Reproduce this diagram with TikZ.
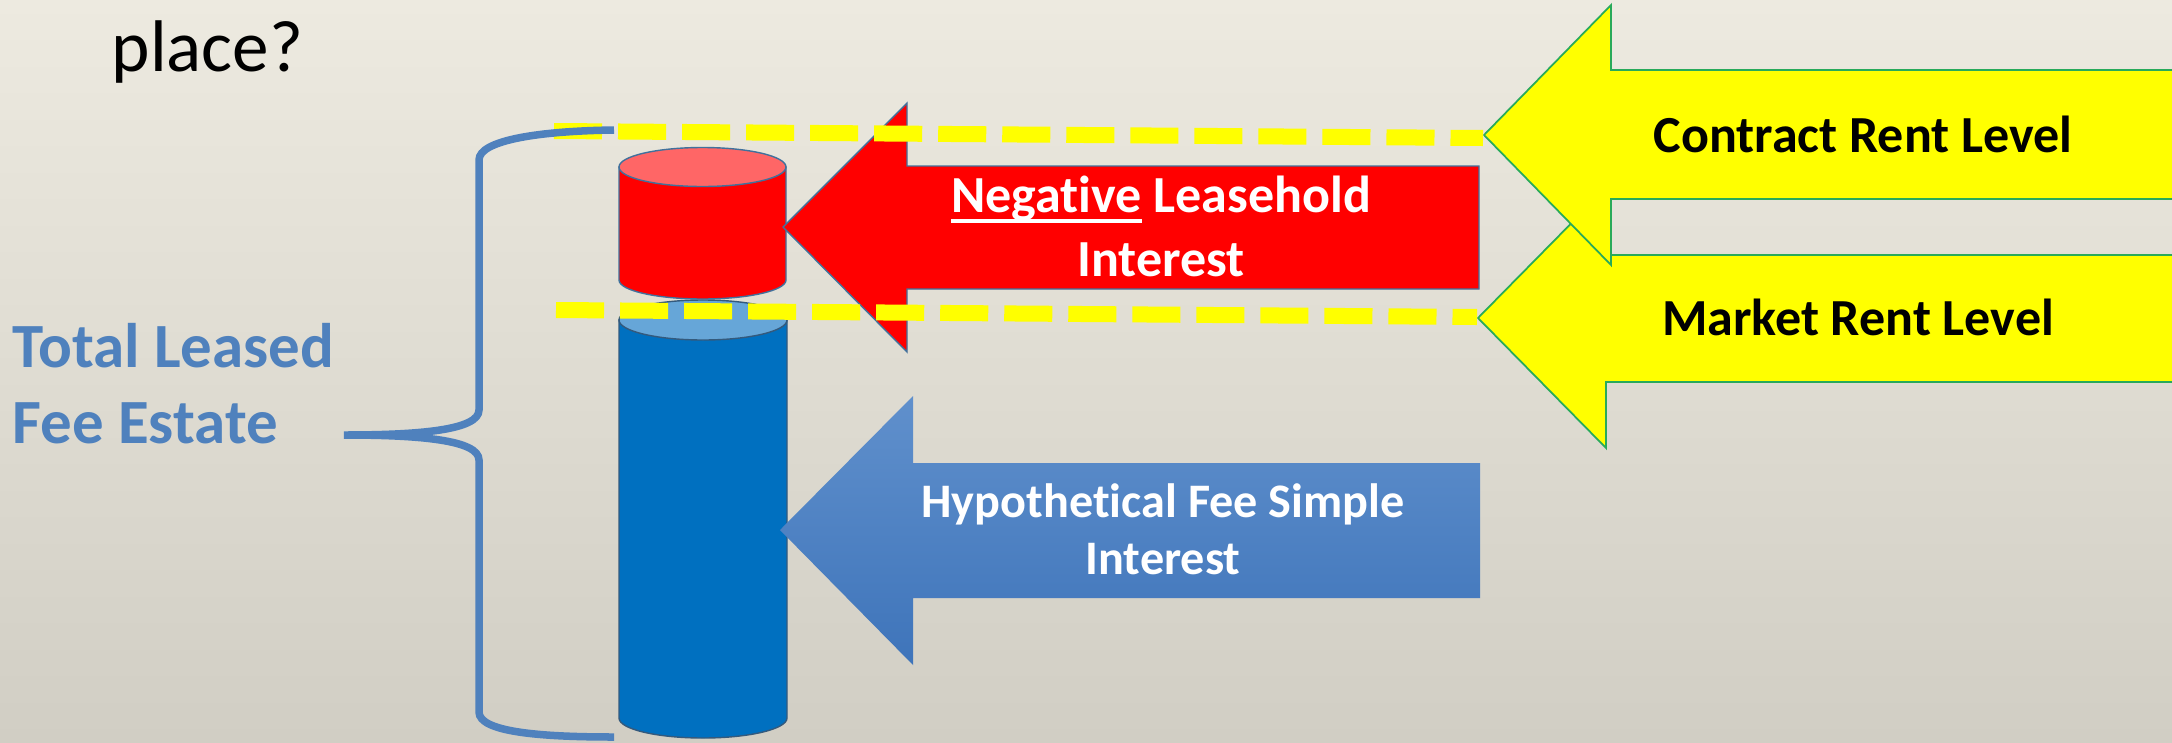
\documentclass[tikz,border=0pt]{standalone}
\usepackage{fontspec}
\setmainfont{Carlito}[Ligatures=NoCommon]
\usetikzlibrary{positioning}

\newsavebox{\underbox}
\newcommand{\lineunder}[1]{\sbox{\underbox}{#1}\rlap{\rule[-3.1pt]{\wd\underbox}{1.1pt}}\usebox{\underbox}}

\definecolor{bgTop}{RGB}{237,234,224}
\definecolor{bgBottom}{RGB}{209,206,196}
\definecolor{estateBlue}{RGB}{79,129,189}
\definecolor{cylBlue}{RGB}{0,112,192}
\definecolor{cylBlueTop}{RGB}{102,166,216}
\definecolor{cylRedTop}{RGB}{255,102,102}
\definecolor{edgeBlue}{RGB}{65,113,156}
\definecolor{arrowBlueTop}{RGB}{96,144,204}
\definecolor{arrowBlueBottom}{RGB}{62,116,186}
\definecolor{rentYellow}{RGB}{255,255,0}
\definecolor{rentGreen}{RGB}{40,170,90}

\begin{document}
\begin{tikzpicture}[
    x=0.01cm, y=-0.01cm,
    redbody/.style={fill=red, draw=edgeBlue, line width=0.4pt},
    redtop/.style={fill=cylRedTop, draw=edgeBlue, line width=0.4pt},
    bluebody/.style={fill=cylBlue, draw=edgeBlue!80!black, line width=0.4pt},
    bluetop/.style={fill=cylBlueTop, draw=edgeBlue!80!black, line width=0.4pt},
    redarrow/.style={fill=red, draw=edgeBlue, line width=0.4pt},
    bluearrow/.style={top color=arrowBlueTop, bottom color=arrowBlueBottom},
    rentarrow/.style={fill=rentYellow, draw=rentGreen, line width=0.5pt},
    rentline/.style={draw=rentYellow, line width=0.16cm, dash pattern=on 0.48cm off 0.16cm},
    brace/.style={draw=estateBlue, line width=0.075cm},
    whitelabel/.style={text=white, font=\bfseries, align=center, inner sep=0pt},
    rentlabel/.style={text=black, font=\fontsize{14.8}{18}\selectfont\bfseries, inner sep=0pt}
]

% Background
\fill[top color=bgTop, bottom color=bgBottom] (0,0) rectangle (2172,742);
\useasboundingbox (0,0) rectangle (2172,742);

% Title
\node[anchor=base west, inner sep=0pt, font=\fontsize{20.8}{24}\selectfont] (title) at (111,71) {place?};

% Cylinders
\draw[bluebody] (619,320) -- (619,718) arc[start angle=180, end angle=0, x radius=84, y radius=20] -- (787,320) -- cycle;
\draw[bluetop] (703,320) ellipse[x radius=84, y radius=20];

\draw[redbody] (619,167) -- (619,280) arc[start angle=180, end angle=0, x radius=83.5, y radius=19] -- (786,167) -- cycle;
\draw[redtop] (702.5,167) ellipse[x radius=83.5, y radius=19.5];

% Block arrows
\draw[redarrow] (783,227) -- (907,103) -- (907,166) -- (1479,166) -- (1479,289) -- (907,289) -- (907,352) -- cycle;
\node[whitelabel, font=\fontsize{14.8}{18.2}\selectfont\bfseries] (negative) at (1161,226) {\lineunder{Negative} Leasehold\\Interest};

\path[bluearrow] (780,530) -- (913,396) -- (913,463) -- (1480,463) -- (1480,598) -- (913,598) -- (913,665) -- cycle;
\node[whitelabel, font=\fontsize{13.7}{16.2}\selectfont\bfseries] (hypothetical) at (1163,529) {Hypothetical Fee Simple\\Interest};

% Rent levels
\draw[rentarrow] (1478,318) -- (1606,188) -- (1606,255) -- (2185,255) -- (2185,382) -- (1606,382) -- (1606,448) -- cycle;
\draw[rentarrow] (1484,135) -- (1611,5) -- (1611,70) -- (2185,70) -- (2185,199) -- (1611,199) -- (1611,265) -- cycle;
\coordinate (contractTip) at (1483,138);
\coordinate (marketTip) at (1477,317);
\coordinate (contractStart) at (554,131);
\coordinate (marketStart) at (556,310);

\node[rentlabel, anchor=base] (contract) at (1863,152) {Contract Rent Level};
\node[rentlabel, anchor=base] (market) at (1858,335) {Market Rent Level};

\draw[rentline] (contractStart) -- (contractTip);
\draw[rentline] (marketStart) -- (marketTip);

% Brace
\draw[brace] (614,130) .. controls (540,131) and (479,140) .. (479,160) -- (479,410)
    .. controls (479,430) and (420,435) .. (344,435)
    .. controls (420,435) and (479,440) .. (479,460) -- (479,712)
    .. controls (479,732) and (540,737) .. (614,737);

\node[anchor=west, align=left, inner sep=0pt, text=estateBlue, font=\fontsize{17.9}{21.6}\selectfont\bfseries] (estate) at (12,384) {Total Leased\\Fee Estate};

\end{tikzpicture}
\end{document}
